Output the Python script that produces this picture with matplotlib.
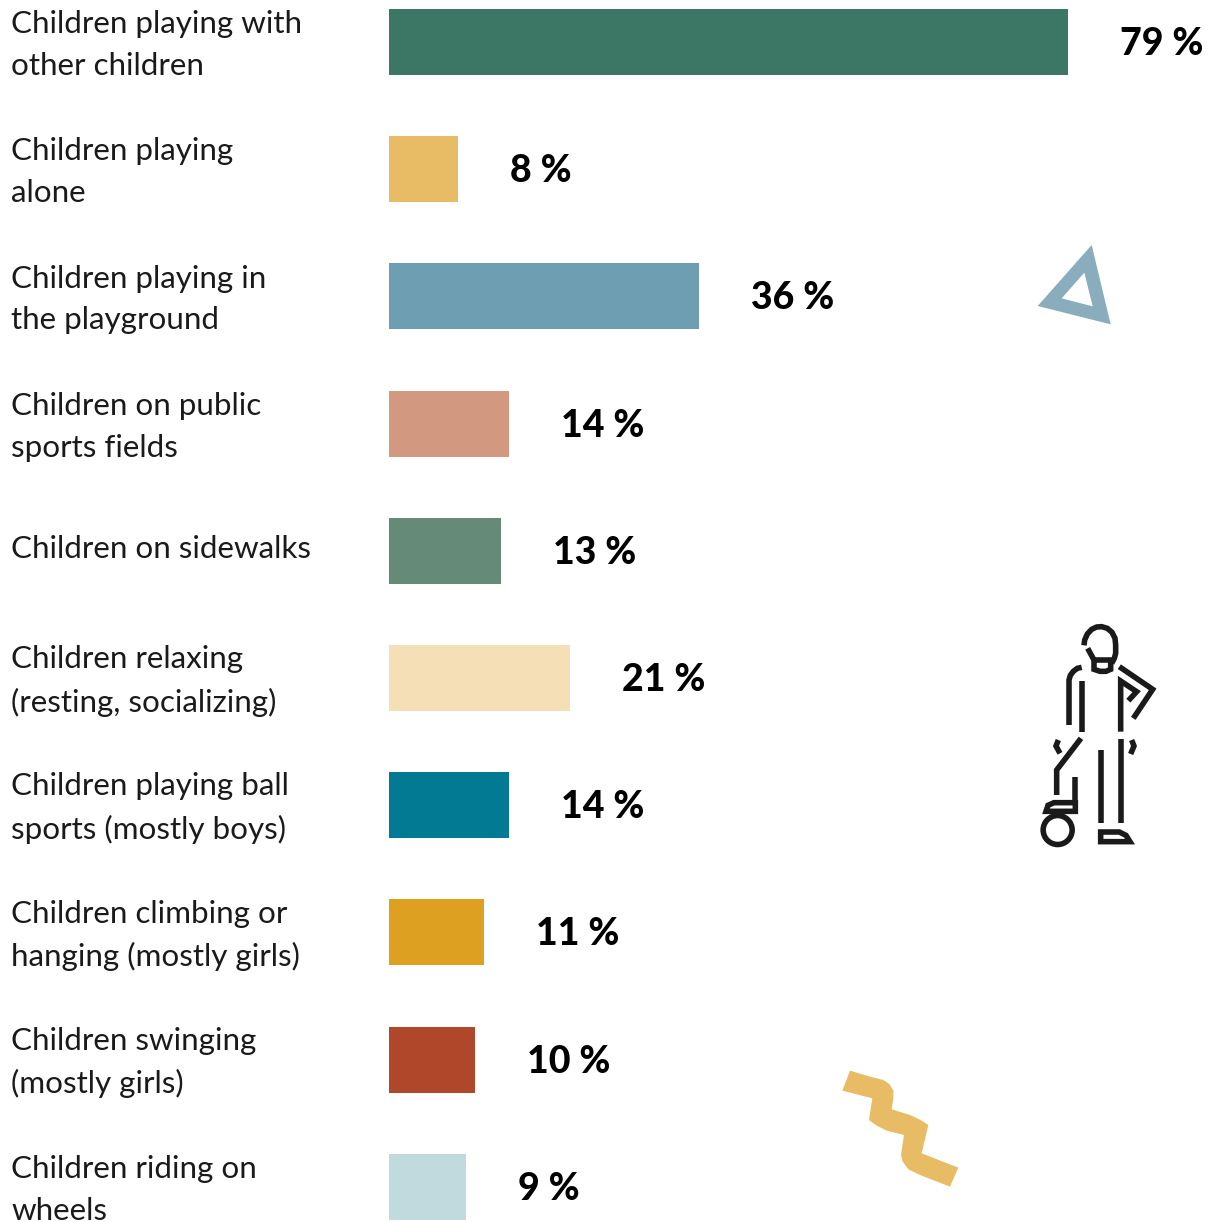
import matplotlib
matplotlib.use('Agg')
import matplotlib.pyplot as plt
from matplotlib.patches import Circle, PathPatch, Polygon
from matplotlib.path import Path

# Bar chart data
labels = [
    'Children playing with\nother children',
    'Children playing\nalone',
    'Children playing in\nthe playground',
    'Children on public\nsports fields',
    'Children on sidewalks',
    'Children relaxing\n(resting, socializing)',
    'Children playing ball\nsports (mostly boys)',
    'Children climbing or\nhanging (mostly girls)',
    'Children swinging\n(mostly girls)',
    'Children riding on\nwheels',
]
values = [79, 8, 36, 14, 13, 21, 14, 11, 10, 9]
colors = ['#3c7664', '#e8bc64', '#6e9eb1', '#d39880', '#658a78',
          '#f4dfb6', '#037a94', '#dea021', '#b0472b', '#c0dade']

W, H = 1223, 1222
INK = '#1a1a1a'

plt.rcParams['font.family'] = ['Lato', 'DejaVu Sans']

fig = plt.figure(figsize=(W / 100, H / 100), dpi=100)

# Bars axes: one unit of x is 8.6 px, rows are 127.2 px apart
ax = fig.add_axes([389 / W, 0, (W - 389) / W, 1])
ax.set_xlim(0, (W - 389) / 8.6)
ax.set_ylim((H - 42) / 127.2, -42 / 127.2)
ax.axis('off')

rows = range(len(values))
ax.barh(list(rows), values, height=66 / 127.2, color=colors)

for i in rows:
    ax.annotate(f'{values[i]} %', (values[i], i), xytext=(52, -2), textcoords='offset pixels',
                ha='left', va='center', fontsize=27, fontweight='black', color='black')
    ax.annotate(labels[i], (0, i), xytext=(-378, -3 if '\n' in labels[i] else 2),
                textcoords='offset pixels', ha='left', va='center', fontsize=22.6,
                linespacing=1.6, color=INK, annotation_clip=False)

# Decorations drawn in pixel coordinates on a transparent overlay
art = fig.add_axes([0, 0, 1, 1], facecolor='none')
art.set_xlim(0, W)
art.set_ylim(H, 0)
art.axis('off')


def shift(points, x0, y0):
    return [(x0 + x / 3, y0 + y / 3) for x, y in points]


# Triangle outline
tri_outer = shift([(215, 45), (272, 283), (53, 228)], 1020, 230)
tri_inner = shift([(193, 128), (125, 205), (218, 229)], 1020, 230)
tri_verts = tri_outer + tri_outer[:1] + tri_inner + tri_inner[:1]
tri_codes = [Path.MOVETO, Path.LINETO, Path.LINETO, Path.CLOSEPOLY] * 2
art.add_patch(PathPatch(Path(tri_verts, tri_codes), facecolor='#89adbd', edgecolor='none'))

# Squiggle
squiggle = shift([(60, 32), (120, 50), (160, 60), (178, 72), (190, 92), (190, 115), (185, 148),
                  (240, 165), (272, 180), (295, 195), (275, 280), (385, 323), (360, 380),
                  (270, 345), (235, 328), (218, 305), (213, 285), (222, 225), (170, 212),
                  (140, 197), (117, 180), (127, 115), (37, 92)], 830, 1060)
art.add_patch(Polygon(squiggle, closed=True, facecolor='#e8bc64', edgecolor='none'))

# Standing figure with a ball
person_lines = [
    [(192, 106), (194, 90), (202, 72), (215, 58), (230, 51), (245, 50), (262, 55), (276, 67),
     (285, 85), (287, 105), (287, 130), (283, 145), (275, 160)],
    [(203, 115), (222, 150)],
    [(222, 150), (222, 178), (240, 184), (258, 184), (272, 178), (272, 150), (222, 150)],
    [(185, 172), (172, 175), (160, 184), (151, 196), (147, 210), (147, 345)],
    [(187, 213), (187, 365)],
    [(302, 365), (302, 213), (350, 245), (325, 272)],
    [(298, 170), (398, 238), (340, 325)],
    [(183, 385), (110, 480), (110, 555)],
    [(164, 500), (164, 575)],
    [(244, 420), (244, 640)],
    [(302, 388), (302, 640)],
    [(115, 390), (108, 408), (120, 430)],
    [(335, 390), (342, 408), (332, 432)],
]
for line in person_lines:
    pts = shift(line, 1020, 610)
    art.plot([p[0] for p in pts], [p[1] for p in pts], color=INK, lw=4,
             solid_capstyle='butt', solid_joinstyle='miter')

shoes = [
    [(78, 604), (84, 586), (102, 578), (166, 578), (166, 604)],
    [(242, 666), (298, 666), (318, 676), (330, 695), (242, 695)],
]
for shoe in shoes:
    art.add_patch(Polygon(shift(shoe, 1020, 610), closed=True, facecolor='none',
                          edgecolor=INK, lw=4, joinstyle='miter'))

ball_x, ball_y = shift([(113, 660)], 1020, 610)[0]
art.add_patch(Circle((ball_x, ball_y), 14.5, facecolor='none', edgecolor=INK, lw=4))

fig.savefig('out.png', dpi=100)
